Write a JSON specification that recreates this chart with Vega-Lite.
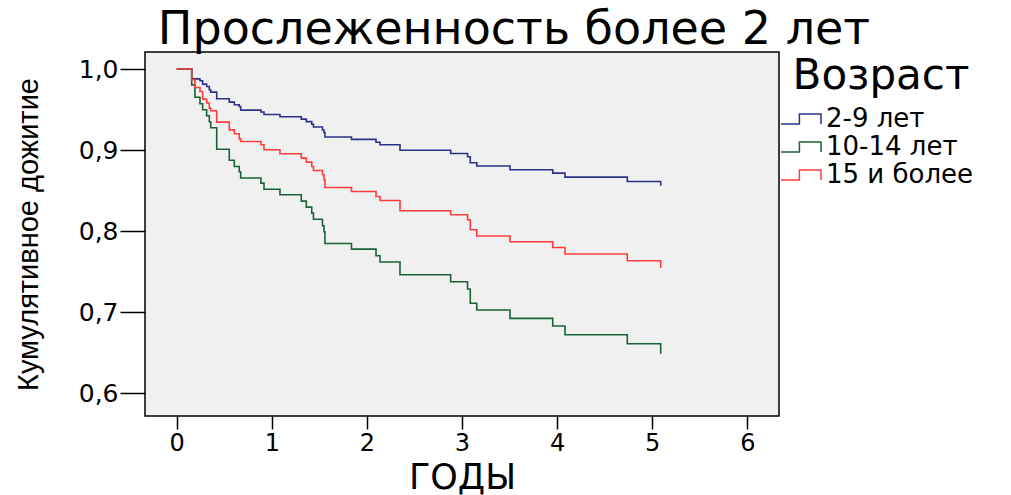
{
  "$schema": "https://vega.github.io/schema/vega-lite/v6.json",
  "width": 634,
  "height": 364,
  "autosize": "none",
  "padding": {"left": 145, "top": 52, "right": 232, "bottom": 79},
  "background": "#ffffff",
  "title": {
    "text": "Прослеженность более 2 лет",
    "font": "DejaVu Sans",
    "fontSize": 46,
    "fontWeight": "normal",
    "color": "#000000",
    "anchor": "middle",
    "dx": 52,
    "offset": -2
  },
  "config": {
    "view": {"stroke": "#000000", "strokeWidth": 1.5, "fill": "#f0f0f0"},
    "axis": {
      "grid": false,
      "domain": false,
      "tickColor": "#000000",
      "tickWidth": 1.5,
      "labelColor": "#000000",
      "titleColor": "#000000",
      "labelFont": "DejaVu Sans",
      "titleFont": "DejaVu Sans",
      "titleFontWeight": "normal"
    }
  },
  "datasets": {
    "km": [
      {"group": "2-9 лет", "t": 0, "s": 1},
      {"group": "2-9 лет", "t": 0.158, "s": 0.9879},
      {"group": "2-9 лет", "t": 0.192, "s": 0.9879},
      {"group": "2-9 лет", "t": 0.245, "s": 0.9855},
      {"group": "2-9 лет", "t": 0.273, "s": 0.9814},
      {"group": "2-9 лет", "t": 0.315, "s": 0.9784},
      {"group": "2-9 лет", "t": 0.343, "s": 0.9744},
      {"group": "2-9 лет", "t": 0.358, "s": 0.9715},
      {"group": "2-9 лет", "t": 0.421, "s": 0.9633},
      {"group": "2-9 лет", "t": 0.553, "s": 0.9592},
      {"group": "2-9 лет", "t": 0.606, "s": 0.9559},
      {"group": "2-9 лет", "t": 0.658, "s": 0.9538},
      {"group": "2-9 лет", "t": 0.673, "s": 0.9493},
      {"group": "2-9 лет", "t": 0.886, "s": 0.9469},
      {"group": "2-9 лет", "t": 0.918, "s": 0.9439},
      {"group": "2-9 лет", "t": 1.086, "s": 0.9411},
      {"group": "2-9 лет", "t": 1.31, "s": 0.9382},
      {"group": "2-9 лет", "t": 1.363, "s": 0.9351},
      {"group": "2-9 лет", "t": 1.42, "s": 0.9318},
      {"group": "2-9 лет", "t": 1.438, "s": 0.9284},
      {"group": "2-9 лет", "t": 1.533, "s": 0.9247},
      {"group": "2-9 лет", "t": 1.549, "s": 0.9217},
      {"group": "2-9 лет", "t": 1.559, "s": 0.9162},
      {"group": "2-9 лет", "t": 1.838, "s": 0.9132},
      {"group": "2-9 лет", "t": 2.096, "s": 0.9096},
      {"group": "2-9 лет", "t": 2.138, "s": 0.9065},
      {"group": "2-9 лет", "t": 2.348, "s": 0.8998},
      {"group": "2-9 лет", "t": 2.881, "s": 0.8958},
      {"group": "2-9 лет", "t": 3.058, "s": 0.8917},
      {"group": "2-9 лет", "t": 3.087, "s": 0.8843},
      {"group": "2-9 лет", "t": 3.155, "s": 0.8803},
      {"group": "2-9 лет", "t": 3.505, "s": 0.8757},
      {"group": "2-9 лет", "t": 3.954, "s": 0.8716},
      {"group": "2-9 лет", "t": 4.083, "s": 0.8667},
      {"group": "2-9 лет", "t": 4.738, "s": 0.8613},
      {"group": "2-9 лет", "t": 5.089, "s": 0.856},
      {"group": "10-14 лет", "t": 0, "s": 1},
      {"group": "10-14 лет", "t": 0.158, "s": 0.9805},
      {"group": "10-14 лет", "t": 0.192, "s": 0.9651},
      {"group": "10-14 лет", "t": 0.245, "s": 0.9571},
      {"group": "10-14 лет", "t": 0.273, "s": 0.9497},
      {"group": "10-14 лет", "t": 0.315, "s": 0.9423},
      {"group": "10-14 лет", "t": 0.343, "s": 0.9349},
      {"group": "10-14 лет", "t": 0.358, "s": 0.9275},
      {"group": "10-14 лет", "t": 0.421, "s": 0.901},
      {"group": "10-14 лет", "t": 0.553, "s": 0.8874},
      {"group": "10-14 лет", "t": 0.606, "s": 0.8798},
      {"group": "10-14 лет", "t": 0.658, "s": 0.8732},
      {"group": "10-14 лет", "t": 0.673, "s": 0.8655},
      {"group": "10-14 лет", "t": 0.886, "s": 0.8593},
      {"group": "10-14 лет", "t": 0.918, "s": 0.8517},
      {"group": "10-14 лет", "t": 1.086, "s": 0.8449},
      {"group": "10-14 лет", "t": 1.31, "s": 0.8371},
      {"group": "10-14 лет", "t": 1.363, "s": 0.8297},
      {"group": "10-14 лет", "t": 1.42, "s": 0.8223},
      {"group": "10-14 лет", "t": 1.438, "s": 0.8147},
      {"group": "10-14 лет", "t": 1.533, "s": 0.8067},
      {"group": "10-14 лет", "t": 1.549, "s": 0.7993},
      {"group": "10-14 лет", "t": 1.559, "s": 0.7848},
      {"group": "10-14 лет", "t": 1.838, "s": 0.7779},
      {"group": "10-14 лет", "t": 2.096, "s": 0.7697},
      {"group": "10-14 лет", "t": 2.138, "s": 0.7619},
      {"group": "10-14 лет", "t": 2.348, "s": 0.7462},
      {"group": "10-14 лет", "t": 2.881, "s": 0.7376},
      {"group": "10-14 лет", "t": 3.058, "s": 0.7286},
      {"group": "10-14 лет", "t": 3.087, "s": 0.7111},
      {"group": "10-14 лет", "t": 3.155, "s": 0.7027},
      {"group": "10-14 лет", "t": 3.505, "s": 0.6924},
      {"group": "10-14 лет", "t": 3.954, "s": 0.683},
      {"group": "10-14 лет", "t": 4.083, "s": 0.6723},
      {"group": "10-14 лет", "t": 4.738, "s": 0.6612},
      {"group": "10-14 лет", "t": 5.089, "s": 0.6488},
      {"group": "15 и более", "t": 0, "s": 1},
      {"group": "15 и более", "t": 0.158, "s": 0.9867},
      {"group": "15 и более", "t": 0.192, "s": 0.9772},
      {"group": "15 и более", "t": 0.245, "s": 0.9723},
      {"group": "15 и более", "t": 0.273, "s": 0.9629},
      {"group": "15 и более", "t": 0.315, "s": 0.958},
      {"group": "15 и более", "t": 0.343, "s": 0.9518},
      {"group": "15 и более", "t": 0.358, "s": 0.9485},
      {"group": "15 и более", "t": 0.421, "s": 0.9345},
      {"group": "15 и более", "t": 0.553, "s": 0.925},
      {"group": "15 и более", "t": 0.606, "s": 0.9201},
      {"group": "15 и более", "t": 0.658, "s": 0.9139},
      {"group": "15 и более", "t": 0.673, "s": 0.9106},
      {"group": "15 и более", "t": 0.886, "s": 0.9065},
      {"group": "15 и более", "t": 0.918, "s": 0.9004},
      {"group": "15 и более", "t": 1.086, "s": 0.8954},
      {"group": "15 и более", "t": 1.31, "s": 0.8901},
      {"group": "15 и более", "t": 1.363, "s": 0.8852},
      {"group": "15 и более", "t": 1.42, "s": 0.8798},
      {"group": "15 и более", "t": 1.438, "s": 0.8748},
      {"group": "15 и более", "t": 1.533, "s": 0.8695},
      {"group": "15 и более", "t": 1.549, "s": 0.8634},
      {"group": "15 и более", "t": 1.559, "s": 0.8539},
      {"group": "15 и более", "t": 1.838, "s": 0.849},
      {"group": "15 и более", "t": 2.096, "s": 0.8428},
      {"group": "15 и более", "t": 2.138, "s": 0.8379},
      {"group": "15 и более", "t": 2.348, "s": 0.8252},
      {"group": "15 и более", "t": 2.881, "s": 0.8202},
      {"group": "15 и более", "t": 3.058, "s": 0.8141},
      {"group": "15 и более", "t": 3.087, "s": 0.8017},
      {"group": "15 и более", "t": 3.155, "s": 0.794},
      {"group": "15 и более", "t": 3.505, "s": 0.7869},
      {"group": "15 и более", "t": 3.954, "s": 0.7799},
      {"group": "15 и более", "t": 4.083, "s": 0.7718},
      {"group": "15 и более", "t": 4.738, "s": 0.7635},
      {"group": "15 и более", "t": 5.089, "s": 0.7545}
    ]
  },
  "data": {"name": "km"},
  "mark": {"type": "line", "interpolate": "step-after", "strokeWidth": 1.6},
  "encoding": {
    "x": {
      "field": "t",
      "type": "quantitative",
      "scale": {"domain": [-0.333, 6.333], "nice": false, "zero": false},
      "axis": {
        "title": "ГОДЫ",
        "titleFontSize": 35,
        "titleX": 317,
        "titleY": 61,
        "titleBaseline": "middle",
        "values": [0, 1, 2, 3, 4, 5, 6],
        "labelFontSize": 24,
        "tickSize": 13,
        "labelPadding": 2
      }
    },
    "y": {
      "field": "s",
      "type": "quantitative",
      "scale": {"domain": [0.572, 1.021], "nice": false, "zero": false},
      "axis": {
        "title": "Кумулятивное дожитие",
        "titleFont": "Liberation Sans",
        "titleFontSize": 29,
        "titleAngle": -90,
        "titleX": -117,
        "titleY": 182,
        "titleAlign": "center",
        "titleBaseline": "middle",
        "values": [0.6, 0.7, 0.8, 0.9, 1.0],
        "labelExpr": "replace(format(datum.value, '.1f'), '.', ',')",
        "labelFontSize": 25,
        "tickSize": 25,
        "labelPadding": 2
      }
    },
    "color": {
      "field": "group",
      "type": "nominal",
      "sort": ["2-9 лет", "10-14 лет", "15 и более"],
      "scale": {
        "domain": ["2-9 лет", "10-14 лет", "15 и более"],
        "range": ["#2b3285", "#1a6236", "#ff3c3c"]
      },
      "legend": {
        "title": "Возраст",
        "orient": "none",
        "legendX": 643,
        "legendY": 4,
        "titleFont": "DejaVu Sans",
        "titleFontSize": 42,
        "titleFontWeight": "normal",
        "titleColor": "#000000",
        "titleAnchor": "middle",
        "titleLimit": 400,
        "titlePadding": 8,
        "labelFont": "DejaVu Sans",
        "labelFontSize": 26,
        "labelLimit": 300,
        "labelColor": "#000000",
        "labelOffset": 12,
        "symbolType": "M-2,0.5H-0.16V-0.5H2V0.5",
        "symbolSize": 400,
        "symbolStrokeWidth": 1.5,
        "symbolFillColor": "transparent",
        "rowPadding": 2
      }
    }
  }
}
